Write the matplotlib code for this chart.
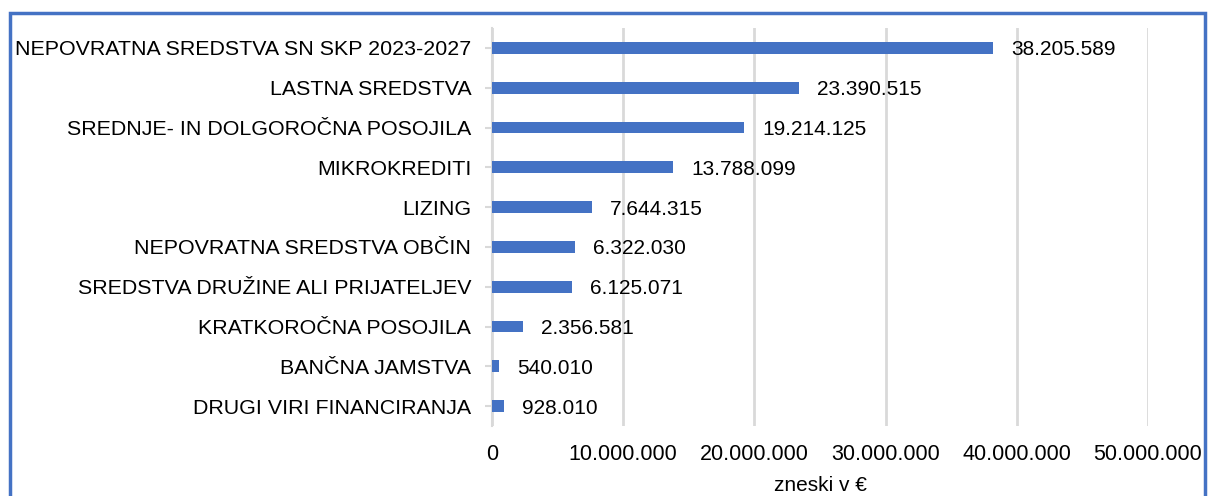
import matplotlib
matplotlib.use("Agg")
import matplotlib.pyplot as plt
from matplotlib.patches import Rectangle
from matplotlib.ticker import FuncFormatter

categories = [
    "NEPOVRATNA SREDSTVA SN SKP 2023-2027",
    "LASTNA SREDSTVA",
    "SREDNJE- IN DOLGOROČNA POSOJILA",
    "MIKROKREDITI",
    "LIZING",
    "NEPOVRATNA SREDSTVA OBČIN",
    "SREDSTVA DRUŽINE ALI PRIJATELJEV",
    "KRATKOROČNA POSOJILA",
    "BANČNA JAMSTVA",
    "DRUGI VIRI FINANCIRANJA",
]
values = [38205589, 23390515, 19214125, 13788099, 7644315, 6322030, 6125071, 2356581, 540010, 928010]
xticks = [0, 10000000, 20000000, 30000000, 40000000, 50000000]

def fmt(v):
    return f"{int(v):,}".replace(",", ".")

plt.rcParams['font.family'] = ['Liberation Sans', 'DejaVu Sans']

W, H = 1208, 496
fig = plt.figure(figsize=(W/100, H/100), dpi=100)
ax = fig.add_axes([492/W, 1-426/H, (1148-492)/W, (426-28)/H])

blue = "#4472C4"
grid = "#D9D9D9"
ypos = list(range(len(categories)))
ax.barh(ypos, values, height=0.3, color=blue, zorder=3)
ax.set_ylim(len(categories)-0.5, -0.5)
ax.set_xlim(0, 50000000)
ax.set_yticks(ypos)
ax.set_yticklabels(categories, fontsize=15.4, color="#000000")
ax.set_xticks(xticks)
ax.xaxis.set_major_formatter(FuncFormatter(lambda v, p: fmt(v)))
for lab in ax.get_xticklabels():
    lab.set_fontsize(15.5)
ax.tick_params(axis='x', length=0, pad=13)
ax.tick_params(axis='y', length=5, color=grid, width=1.5, pad=10)
ax.grid(axis='x', color=grid, linewidth=2, zorder=0)
for s in ["top", "right", "bottom"]:
    ax.spines[s].set_visible(False)
ax.spines["left"].set_color(grid)
ax.spines["left"].set_linewidth(1.5)
ax.set_xlabel("zneski v €", fontsize=15, labelpad=8)

for y, v in zip(ypos, values):
    ax.annotate(fmt(v), xy=(v, y), xytext=(18, 0), textcoords="offset pixels",
                va="center_baseline", ha="left", fontsize=15, color="#000000", zorder=4)

fig.patches.append(Rectangle((10/W, -0.1), (1205-10)/W, 1.1 - 13/H, transform=fig.transFigure,
                             fill=False, edgecolor=blue, linewidth=2.5))

fig.savefig("out.png", dpi=100)
